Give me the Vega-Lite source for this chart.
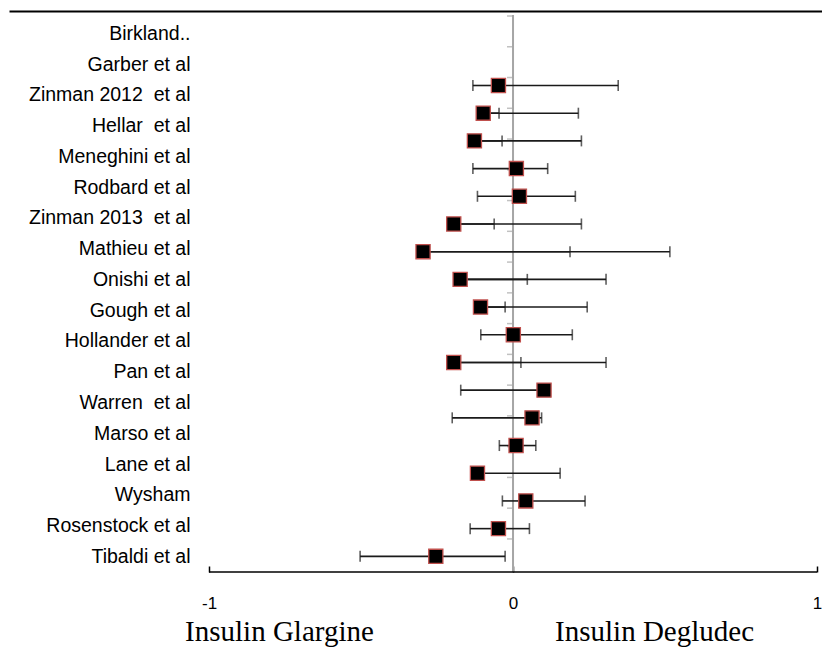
{
  "$schema": "https://vega.github.io/schema/vega-lite/v6.json",
  "width": 813,
  "height": 637,
  "autosize": "none",
  "padding": {"left": 9, "top": 11, "right": 0, "bottom": 0},
  "background": "white",
  "config": {"view": {"stroke": null}, "axis": {"grid": false}},
  "data": {
    "values": [
      {"study": "Birkland..", "row": 0, "est": -0.048, "lo": -0.132, "hi": 0.346},
      {"study": "Garber et al", "row": 1, "est": -0.098, "lo": -0.046, "hi": 0.215},
      {"study": "Zinman 2012 \u00a0et al", "row": 2, "est": -0.127, "lo": -0.036, "hi": 0.225},
      {"study": "Hellar \u00a0et al", "row": 3, "est": 0.011, "lo": -0.132, "hi": 0.114},
      {"study": "Meneghini et al", "row": 4, "est": 0.021, "lo": -0.117, "hi": 0.205},
      {"study": "Rodbard et al", "row": 5, "est": -0.195, "lo": -0.062, "hi": 0.225},
      {"study": "Zinman 2013 \u00a0et al", "row": 6, "est": -0.296, "lo": 0.1875, "hi": 0.516},
      {"study": "Mathieu et al", "row": 7, "est": -0.174, "lo": 0.047, "hi": 0.306},
      {"study": "Onishi et al", "row": 8, "est": -0.107, "lo": -0.026, "hi": 0.244},
      {"study": "Gough et al", "row": 9, "est": 0.001, "lo": -0.106, "hi": 0.195},
      {"study": "Hollander et al", "row": 10, "est": -0.195, "lo": 0.026, "hi": 0.306},
      {"study": "Pan et al", "row": 11, "est": 0.102, "lo": -0.172, "hi": 0.1},
      {"study": "Warren \u00a0et al", "row": 12, "est": 0.0625, "lo": -0.2, "hi": 0.094},
      {"study": "Marso et al", "row": 13, "est": 0.01, "lo": -0.045, "hi": 0.075},
      {"study": "Lane et al", "row": 14, "est": -0.117, "lo": -0.12, "hi": 0.155},
      {"study": "Wysham", "row": 15, "est": 0.042, "lo": -0.035, "hi": 0.237},
      {"study": "Rosenstock et al", "row": 16, "est": -0.048, "lo": -0.141, "hi": 0.054},
      {"study": "Tibaldi et al", "row": 17, "est": -0.254, "lo": -0.503, "hi": -0.026}
    ]
  },
  "layer": [
    {
      "mark": {"type": "tick", "orient": "horizontal", "color": "#a6a6a6", "size": 6, "thickness": 1.5},
      "encoding": {
        "x": {"datum": -0.0099, "type": "quantitative", "scale": {"domain": [-1.658, 1.0164], "nice": false, "zero": false}, "axis": null},
        "y": {
          "field": "study", "type": "nominal", "sort": null, "bandPosition": 0,
          "scale": {"type": "band", "range": [5, 558.7], "paddingInner": 0, "paddingOuter": 0},
          "axis": {"orient": "left", "offset": -200, "domain": false, "ticks": false, "labelPadding": 19, "labelOffset": 2.5, "labelFont": "Liberation Sans", "labelFontSize": 19.5, "labelColor": "black", "title": null, "labelLimit": 300}
        }
      }
    },
    {
      "layer": [
        {
          "data": {"values": [{}]},
          "mark": {"type": "rule", "color": "#a6a6a6", "strokeWidth": 2},
          "encoding": {
            "x": {"datum": 0, "type": "quantitative", "scale": {"domain": [-1.658, 1.0164], "nice": false, "zero": false},
                  "axis": {"orient": "top", "domain": true, "domainColor": "black", "domainWidth": 2, "ticks": false, "labels": false, "title": null}},
            "y": {"datum": -2.545, "type": "quantitative", "scale": {"domain": [-2.69, 20.31], "nice": false, "zero": false, "reverse": true},
                  "axis": {"orient": "left", "domain": true, "domainColor": "black", "domainWidth": 2, "ticks": false, "labels": false, "title": null}},
            "y2": {"datum": 17.563}
          }
        },
        {
          "data": {"values": [{}]},
          "mark": {"type": "rule", "color": "black", "strokeWidth": 1.5},
          "encoding": {
            "x": {"datum": -1, "type": "quantitative", "scale": {"domain": [-1.658, 1.0164], "nice": false, "zero": false},
                  "axis": {"orient": "bottom", "offset": -76, "values": [-1, 0, 1], "labelExpr": "datum.value < 0 ? '-1' : datum.value > 0 ? '1' : '0'", "domain": false, "ticks": true, "tickSize": -6, "tickColor": "black", "tickWidth": 1.5, "labelPadding": 29, "labelFont": "Liberation Sans", "labelFontSize": 17, "labelColor": "black", "labelFlush": false, "title": null}},
            "x2": {"datum": 1},
            "y": {"datum": 17.563, "type": "quantitative", "scale": {"domain": [-2.69, 20.31], "nice": false, "zero": false, "reverse": true}, "axis": null}
          }
        },
        {
          "mark": {"type": "rule", "color": "#1a1a1a", "strokeWidth": 1.6},
          "encoding": {
            "x": {"field": "est", "type": "quantitative", "scale": {"domain": [-1.658, 1.0164], "nice": false, "zero": false},
                  "axis": {"orient": "bottom", "offset": -76, "values": [-0.77, 0.464], "labelExpr": "datum.value < 0 ? 'Insulin Glargine' : 'Insulin Degludec'", "domain": false, "ticks": false, "tickSize": 0, "labelPadding": 45, "labelFont": "Liberation Serif", "labelFontSize": 29, "labelColor": "black", "labelFlush": false, "labelOverlap": false, "labelLimit": 400, "title": null}},
            "x2": {"field": "lo"},
            "y": {"field": "row", "type": "quantitative", "scale": {"domain": [-2.69, 20.31], "nice": false, "zero": false, "reverse": true}, "axis": null}
          }
        },
        {
          "mark": {"type": "rule", "color": "#1a1a1a", "strokeWidth": 1.6},
          "encoding": {
            "x": {"field": "est", "type": "quantitative", "axis": null},
            "x2": {"field": "hi"},
            "y": {"field": "row", "type": "quantitative", "axis": null}
          }
        },
        {
          "mark": {"type": "tick", "orient": "vertical", "color": "#1a1a1a", "size": 11, "thickness": 1.6},
          "encoding": {
            "x": {"field": "lo", "type": "quantitative", "axis": null},
            "y": {"field": "row", "type": "quantitative", "axis": null}
          }
        },
        {
          "mark": {"type": "tick", "orient": "vertical", "color": "#1a1a1a", "size": 11, "thickness": 1.6},
          "encoding": {
            "x": {"field": "hi", "type": "quantitative", "axis": null},
            "y": {"field": "row", "type": "quantitative", "axis": null}
          }
        },
        {
          "mark": {"type": "point", "shape": "square", "filled": true, "fill": "black", "stroke": "#c0504d", "strokeWidth": 1.3, "size": 200, "opacity": 1},
          "encoding": {
            "x": {"field": "est", "type": "quantitative", "axis": null},
            "y": {"field": "row", "type": "quantitative", "axis": null}
          }
        }
      ],
      "resolve": {"axis": {"x": "independent"}}
    }
  ],
  "resolve": {"scale": {"y": "independent"}}
}
